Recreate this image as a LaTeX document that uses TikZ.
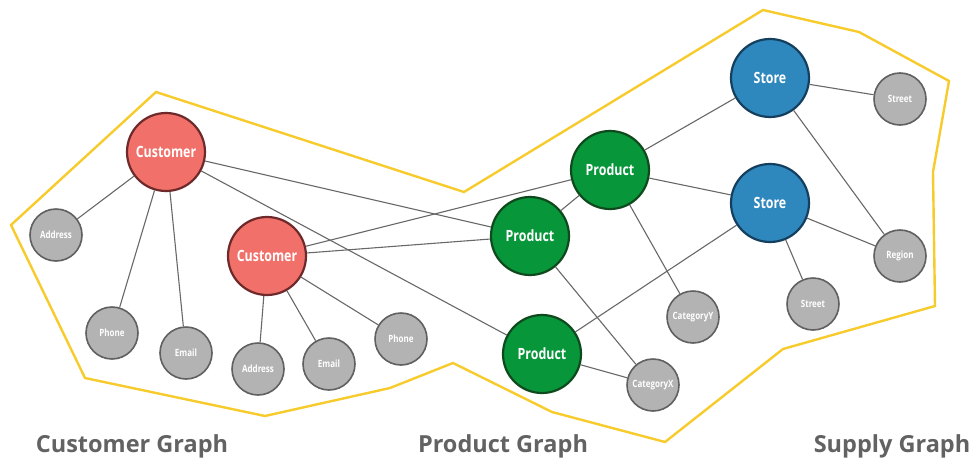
\documentclass[tikz,border=0pt]{standalone}
\usepackage{fontspec}
\setmainfont{Open Sans}
\newfontfamily\narrowfont[FakeStretch=0.8]{Open Sans}

\definecolor{custfill}{HTML}{F1716A}
\definecolor{custline}{HTML}{6E2A2A}
\definecolor{prodfill}{HTML}{07963A}
\definecolor{prodline}{HTML}{0F4A1E}
\definecolor{storefill}{HTML}{2E88BD}
\definecolor{storeline}{HTML}{153F5E}
\definecolor{attrfill}{HTML}{B3B3B3}
\definecolor{attrline}{HTML}{606060}
\definecolor{linkgray}{HTML}{686868}
\definecolor{hullyellow}{HTML}{F7CB2C}
\definecolor{capgray}{HTML}{626262}

\begin{document}
\begin{tikzpicture}[
  x=1pt, y=-1pt,
  entity/.style={
      circle,
      line width=2.2pt,
      minimum size=78pt,
      inner sep=0pt,
      text=white,
      font=\narrowfont\bfseries\fontsize{15.5}{16}\selectfont
    },
  customer/.style={entity, fill=custfill, draw=custline},
  product/.style={entity, fill=prodfill, draw=prodline},
  store/.style={entity, fill=storefill, draw=storeline},
  attr/.style={
      circle,
      fill=attrfill,
      draw=attrline,
      line width=1.6pt,
      minimum size=52pt,
      inner sep=0pt,
      text=white,
      font=\narrowfont\bfseries\fontsize{10}{10}\selectfont
    },
  link/.style={
      draw=linkgray,
      line width=1.1pt
    },
  hull/.style={
      draw=hullyellow,
      line width=2.4pt,
      line join=miter
    },
  caption/.style={
      anchor=base,
      text=capgray,
      font=\bfseries\fontsize{23.5}{24}\selectfont
    }]

  \useasboundingbox (0,0) rectangle (974,458);

  % outline round the three sub-graphs
  \draw [hull] (11,225) -- (156,92) -- (464,192) -- (763,10) -- (859,32)
    -- (949,81) -- (933,172) -- (935,306) -- (783,349) -- (665,442)
    -- (552,412) -- (453,363) -- (390,388) -- (265,416) -- (85,378) -- cycle;

  % customers
  \node [customer] (cust1) at (166,152) {Customer};
  \node [customer] (cust2) at (267,256) {Customer};
  \node [attr] (addr1) at (56,235) {Address};
  \node [attr] (phone1) at (112,333) {Phone};
  \node [attr] (email1) at (186,353) {Email};
  \node [attr] (addr2) at (258,369) {Address};
  \node [attr] (email2) at (329,364) {Email};
  \node [attr] (phone2) at (401,339) {Phone};

  % products
  \node [product] (prod1) at (610,170) {Product};
  \node [product] (prod2) at (530,236) {Product};
  \node [product] (prod3) at (542,354) {Product};
  \node [attr] (caty) at (693,317) {CategoryY};
  \node [attr] (catx) at (653,385) {CategoryX};

  % stores
  \node [store] (store1) at (770,78) {Store};
  \node [store] (store2) at (770,203) {Store};
  \node [attr] (street1) at (900,99) {Street};
  \node [attr] (region) at (900,256) {Region};
  \node [attr] (street2) at (813,304) {Street};

  \draw [link] (cust1) -- (addr1);
  \draw [link] (cust1) -- (phone1);
  \draw [link] (cust1) -- (email1);
  \draw [link] (cust1) -- (prod2);
  \draw [link] (cust1) -- (prod3);
  \draw [link] (cust2) -- (prod1);
  \draw [link] (cust2) -- (prod2);
  \draw [link] (cust2) -- (addr2);
  \draw [link] (cust2) -- (email2);
  \draw [link] (cust2) -- (phone2);
  \draw [link] (prod2) -- (prod1);
  \draw [link] (prod2) -- (catx);
  \draw [link] (prod3) -- (catx);
  \draw [link] (prod3) -- (store2);
  \draw [link] (prod1) -- (caty);
  \draw [link] (prod1) -- (store1);
  \draw [link] (prod1) -- (store2);
  \draw [link] (store1) -- (street1);
  \draw [link] (store1) -- (region);
  \draw [link] (store2) -- (region);
  \draw [link] (store2) -- (street2);

  \node [caption] (custlabel) at (132,452) {Customer Graph};
  \node [caption] (prodlabel) at (503,452) {Product Graph};
  \node [caption] (supplylabel) at (892,452) {Supply Graph};
\end{tikzpicture}
\end{document}
